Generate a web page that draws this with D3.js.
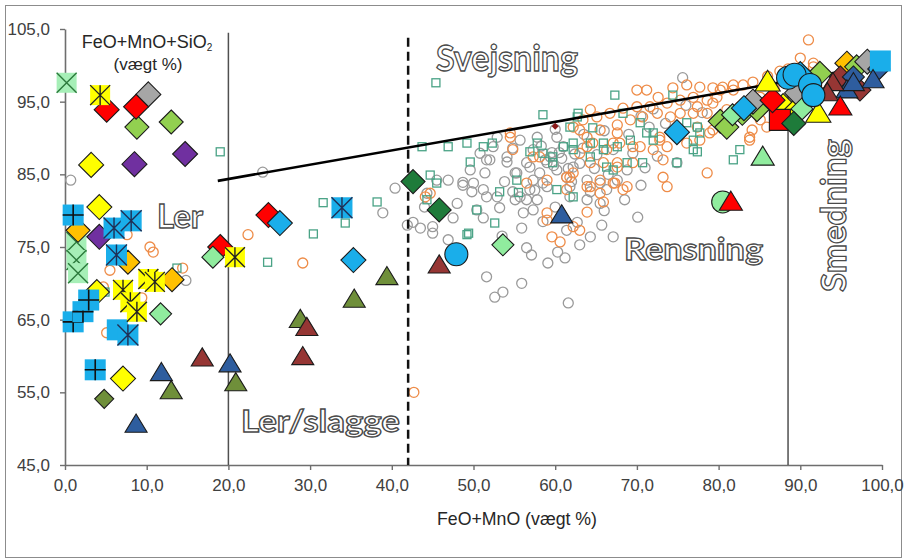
<!DOCTYPE html>
<html>
<head>
<meta charset="utf-8">
<script src="https://cdn.jsdelivr.net/npm/d3@7"></script>
<style>
  body { margin: 0; background: #fff; }
  svg { display: block; }
</style>
</head>
<body>
<svg id="chart" width="906" height="559"></svg>
<script>
// ---------- data: FeO+MnO (x) vs FeO+MnO+SiO2 (y), weight % ----------
const xTicks = [0, 10, 20, 30, 40, 50, 60, 70, 80, 90, 100];
const yTicks = [45, 55, 65, 75, 85, 95, 105];

// background analyses (hollow markers)
const grayCircles = [
  [0.7,84.2],[24.2,85.3],[38.9,79.7],[14.8,70.4],
  [41.9,78.0],[43.5,77.6],[42.6,78.4],[45.0,77.8],[45.0,76.9],[46.9,76.0],[46.9,84.2],[48.7,83.9],
  [49.8,82.6],[50.0,83.8],[51.4,85.2],[51.6,81.9],[50.4,80.1],[53.2,80.4],[51.2,79.0],[52.0,87.0],
  [54.1,86.7],[52.9,90.1],[54.8,88.6],[55.1,85.2],[54.8,82.6],[55.1,81.5],[56.5,81.5],[57.8,81.5],
  [57.3,80.1],[56.1,79.7],[55.9,77.6],[56.5,74.9],[57.1,73.9],[59.1,72.8],[60.3,74.3],[61.2,73.5],
  [51.6,70.9],[52.6,68.1],[53.6,68.8],[55.9,70.0],[61.6,67.3],[63.0,75.3],[64.3,76.4],[65.7,78.0],
  [67.1,76.4],[70.1,79.1],[71.0,85.9],[74.9,86.6],[61.4,77.3],[62.7,78.4],[61.8,81.9],[63.9,81.5],
  [65.5,81.0],[59.0,86.6],[60.2,85.6],[61.4,84.6],[59.6,88.0],[58.1,85.2],[62.2,86.0],[57.3,84.2],
  [56.5,86.6],[58.5,83.8],[63.9,84.2],[65.5,83.8],[66.3,82.9],[64.3,82.6],[67.6,84.2],[68.8,85.6],
  [69.5,87.9],[67.1,88.4],[65.1,87.7],[63.4,88.6],[61.0,88.8],[57.3,88.4],[57.8,90.1],[60.2,90.1],
  [55.7,89.7],[40.4,83.1],[43.1,84.0],[45.5,84.2],[44.3,82.4],[48.7,83.5],[49.6,85.6],[51.6,87.0],
  [54.1,87.4],[52.4,88.8],[50.8,87.9],[55.3,85.2],[56.9,86.0],[59.4,87.4],[61.8,83.3],[59.0,83.3],
  [56.9,82.9],[55.7,81.9],[52.9,81.9],[51.2,82.9],[75.6,98.3],
  [58.8,87.0],[60.8,87.2],[62.4,87.8],[59.8,86.2],[61.6,85.8],[60.5,88.0],[58.3,88.9],[63.0,86.5],
  [64.8,85.8],[62.0,84.0],[66.5,85.0],[57.5,82.8],[53.8,84.0],[47.5,79.0],[46.0,79.8],[48.0,81.0],
  [44.0,80.5],[53.5,76.5],[58.5,78.5],[60.0,80.5],[66.0,80.0],[68.5,81.5],[70.5,83.5],[72.5,87.5],
  [69.0,90.5],[71.5,91.5],[73.5,92.0],[66.0,91.0],[63.5,90.5],[60.0,91.2],[70.5,93.0],[72.0,94.0],
  [76.0,94.5],[78.0,93.5]
];

const orangeCircles = [
  [10.8,74.3],[10.4,75.0],[5.5,71.8],[7.6,76.7],[5.1,63.2],[9.4,68.0],[14.4,72.1],[4.7,69.5],
  [22.4,76.7],[29.1,72.8],[42.7,55.0],[44.7,82.4],[44.1,81.9],
  [91.0,103.5],[90.0,101.0],[91.6,100.3],[70.0,96.6],[71.2,96.6],[72.6,95.6],[74.4,96.9],[76.1,97.3],
  [77.7,97.0],[79.3,96.9],[80.5,97.0],[81.8,97.3],[83.0,97.3],[84.2,97.7],[79.8,95.6],[78.6,95.2],
  [76.9,95.6],[75.3,95.2],[73.7,94.8],[71.6,94.3],[70.0,94.3],[68.3,94.1],[66.7,93.4],[65.1,92.9],
  [63.4,92.5],[62.2,91.5],[65.5,91.1],[67.6,91.8],[69.2,92.5],[70.7,92.9],[72.5,93.4],[74.1,92.9],
  [76.9,93.4],[78.6,93.4],[81.0,93.9],[82.6,94.3],[83.8,95.2],[85.1,95.6],[77.4,91.5],[78.9,90.7],
  [83.8,90.1],[84.1,91.1],[85.1,92.5],[72.8,89.7],[69.5,88.8],[67.9,89.3],[64.6,89.3],[63.0,87.9],
  [67.6,86.0],[68.8,83.3],[65.5,84.2],[73.2,84.6],[73.7,83.3],[61.4,84.6],[63.9,83.3],
  [91.6,99.8],[80.2,96.6],[86.0,98.5],[87.5,99.2],[88.5,99.5],[86.8,96.8],[85.5,94.3],[79.3,94.8],
  [83.5,94.8],[84.2,93.9],[83.8,89.7],[85.9,91.5],[68.3,82.9],[67.1,83.8],[65.9,81.2],
  [59.0,79.7],[59.0,78.7],[59.6,76.4],[60.6,75.7],[62.2,77.8],[63.0,77.3],[63.9,79.8],[65.5,82.4],
  [64.3,83.3],[67.3,83.8],[73.7,88.8],[70.4,88.8],[67.1,89.3],[63.9,90.1],[54.5,90.1],[58.1,87.4],
  [59.0,84.2],[56.5,83.8],[61.4,82.9],[62.2,85.2],[65.9,86.6],[67.6,86.6],[69.5,86.6],[72.0,88.4],
  [64.3,93.9],[63.0,91.1],[67.6,90.7],[63.9,88.8],[66.3,88.4],[54.8,88.4],[64.3,86.6],[61.8,84.6],
  [78.6,85.2],[72.8,90.1],[73.2,87.0],[76.1,89.3],[77.7,89.7],[79.3,91.1],[81.0,92.5],[81.8,96.6],
  [77.4,94.3],[75.3,93.4],[57.3,87.4],[54.5,90.7]
];

const tealSquares = [
  [45.4,97.6],[58.5,93.2],[62.7,92.9],[61.8,91.5],[43.7,88.8],[46.9,88.8],[49.2,89.3],[51.2,88.8],
  [52.3,89.3],[49.6,86.7],[55.3,84.2],[57.8,89.3],[58.5,87.9],[61.0,88.8],[62.2,89.3],[53.2,82.6],
  [44.7,84.9],[44.3,81.5],[50.4,80.1],[38.2,81.2],[31.6,81.1],[45.5,83.8],[49.2,76.7],[52.6,78.3],
  [55.5,82.5],[56.9,88.1],[59.7,86.6],[60.2,82.9],[62.2,81.9],[62.2,88.4],[64.3,89.3],[65.9,88.4],
  [66.3,86.0],[68.8,86.6],[69.2,89.7],[72.0,89.7],[72.0,90.7],[77.4,88.1],[76.9,89.7],[67.3,95.9],
  [74.4,95.9],[64.6,91.4],[68.3,93.4],[70.4,92.1],[71.2,90.7],[76.1,92.1],[77.4,91.5],[74.9,86.6],
  [59.7,87.4],[64.3,87.4],[65.9,89.3],[67.6,88.8],[67.1,85.6],[70.7,86.6],[81.8,87.0],[82.6,88.4],
  [62.8,93.4],[77.7,90.7],[76.9,88.4],[13.7,72.1],[4.9,68.8],[8.3,65.4],[19.0,88.1],[34.3,78.3],
  [30.4,76.8],[24.8,72.9],[49.4,76.9]
];

// sample groups (filled markers)
const mintXSquares     = [[0.2,97.6],[1.4,75.7],[1.4,73.2],[1.6,71.4]];
const orangeDiamonds   = [[1.6,77.3],[7.7,72.9],[13.1,70.5],[95.7,100.3]];
const yellowDiamonds   = [[3.2,86.3],[4.2,80.5],[3.9,68.8],[7.1,56.9],[87.9,94.4],[89.3,93.6]];
const purpleDiamonds   = [[8.5,86.4],[14.7,87.8],[4.2,76.4]];
const limeDiamonds     = [[8.8,91.5],[13.0,92.2],[80.2,92.3],[81.0,91.5],[82.9,93.4],[84.7,93.9],[92.4,98.9],[96.9,99.8]];
const grayDiamonds     = [[10.2,96.0],[84.2,95.0],[89.6,96.2],[98.2,100.5]];
const redSquares       = [[87.5,92.5]];
const redDiamonds      = [[5.1,93.9],[8.7,94.3],[19.0,75.0],[24.9,79.4],[86.6,95.2]];
const mintDiamonds     = [[18.1,73.6],[11.7,65.8],[53.6,75.3],[81.7,93.2],[90.2,94.0]];
const blueDiamonds     = [[26.3,78.3],[35.3,73.2],[74.9,90.8],[83.1,94.1],[90.0,98.8]];
const darkGreenDiamonds= [[42.6,84.0],[45.8,80.1],[89.2,92.0]];
const oliveDiamonds    = [[4.8,54.1]];
const brownDiamonds    = [[94.9,98.4],[97.3,96.6]];
const navyDiamonds     = [[99.6,99.5],[96.5,98.4]];
const blueSquares      = [[6.4,63.6],[99.8,100.6]];
const blueCrossSquares = [[1.0,79.4],[1.0,64.7],[2.2,66.1],[2.9,67.7],[3.7,58.1]];
const blueStarSquares  = [[6.0,77.6],[8.1,78.6],[6.3,73.9],[7.7,62.9],[33.9,80.4]];
const yellowStarSquares= [[4.3,95.9],[10.2,70.6],[11.0,70.2],[7.1,69.1],[8.0,67.4],[8.8,66.1],[20.8,73.6]];
const navyTriangles    = [[8.7,50.6],[11.8,57.7],[20.2,58.9],[60.8,79.4],[95.7,96.6],[98.9,98.0],[96.5,97.6]];
const oliveTriangles   = [[13.0,55.2],[20.9,56.3],[28.8,65.0],[35.4,67.8],[39.4,70.9]];
const brownTriangles   = [[16.8,59.7],[29.1,59.9],[29.6,63.9],[45.8,72.5],[94.0,97.6],[93.3,96.2]];
const yellowTriangles  = [[86.0,97.7],[92.2,93.4]];
const mintTriangles    = [[85.4,87.4]];
const redTriangles     = [[81.5,81.2],[94.9,94.3]];
const blueCircles      = [[47.9,74.0],[88.5,98.3],[89.3,98.7],[91.2,97.3],[91.6,95.9]];
const mintCircles      = [[80.5,81.2]];
const trendPoints      = [[60.0,91.6]];

// field boundaries and trend line
const solidBounds  = [{x: 20, top: 104.5}, {x: 88.5, top: 97}];
const dashedBound  = {x: 42, top: 103.8};
const trendLine    = [[18.7, 84.1], [100, 100.1]];

// ---------- drawing ----------
const svg = d3.select("#chart");
const x = d3.scaleLinear().domain([0, 100]).range([65, 882]);
const y = d3.scaleLinear().domain([45, 105]).range([465, 29]);
const fmt = d3.formatLocale({decimal: ",", thousands: ".", grouping: [3], currency: ["", ""]}).format(".1f");
const axisFont = "'Liberation Sans', Arial, sans-serif";

svg.append("rect").attr("x", 5.5).attr("y", 5.5).attr("width", 896).attr("height", 552)
  .attr("fill", "#fff").attr("stroke", "#8c8c8c").attr("stroke-width", 1);

// axes
const gx = svg.append("g").attr("transform", `translate(0,${y(45)})`)
  .call(d3.axisBottom(x).tickValues(xTicks).tickFormat(fmt).tickSize(5).tickSizeOuter(0).tickPadding(9));
const gy = svg.append("g").attr("transform", `translate(${x(0)},0)`)
  .call(d3.axisLeft(y).tickValues(yTicks).tickFormat(fmt).tickSize(5).tickSizeOuter(0).tickPadding(10));
[gx, gy].forEach(g => {
  g.select(".domain").attr("stroke", "#6e6e6e").attr("stroke-width", 1.6);
  g.selectAll(".tick line").attr("stroke", "#6e6e6e").attr("stroke-width", 1.4);
  g.selectAll(".tick text").attr("fill", "#404040").attr("font-size", 17).attr("font-family", axisFont);
});

// hollow background analyses
const cloud = svg.append("g");
cloud.selectAll(".gc").data(grayCircles).join("circle")
  .attr("cx", d => x(d[0])).attr("cy", d => y(d[1])).attr("r", 5)
  .attr("fill", "none").attr("stroke", "#9a9a9a").attr("stroke-width", 1.3);
cloud.selectAll(".oc").data(orangeCircles).join("circle")
  .attr("cx", d => x(d[0])).attr("cy", d => y(d[1])).attr("r", 5)
  .attr("fill", "none").attr("stroke", "#ee8c48").attr("stroke-width", 1.3);
cloud.selectAll(".ts").data(tealSquares).join("rect")
  .attr("x", d => x(d[0]) - 4).attr("y", d => y(d[1]) - 4).attr("width", 8).attr("height", 8)
  .attr("fill", "none").attr("stroke", "#4aa386").attr("stroke-width", 1.3);

// boundaries
const lines = svg.append("g");
solidBounds.forEach(b => {
  lines.append("line").attr("x1", x(b.x)).attr("x2", x(b.x)).attr("y1", y(b.top)).attr("y2", y(45))
    .attr("stroke", "#505050").attr("stroke-width", 1.5);
});
lines.append("line").attr("x1", x(dashedBound.x)).attr("x2", x(dashedBound.x))
  .attr("y1", y(dashedBound.top)).attr("y2", y(45))
  .attr("stroke", "#111").attr("stroke-width", 2.5).attr("stroke-dasharray", "9,5");
lines.append("path").datum(trendLine)
  .attr("d", d3.line().x(d => x(d[0])).y(d => y(d[1])))
  .attr("stroke", "#000").attr("stroke-width", 2.6).attr("fill", "none");
lines.selectAll(".tp").data(trendPoints).join("path")
  .attr("transform", d => `translate(${x(d[0])},${y(d[1])})`)
  .attr("d", "M0,-3.5L3.5,0L0,3.5L-3.5,0Z").attr("fill", "#8b1a1a");

// marker shapes
const shapes = {
  diamond: r => `M0,${-r}L${r},0L0,${r}L${-r},0Z`,
  triangle: r => `M0,${-r * 0.98}L${r * 1.05},${r * 0.75}L${-r * 1.05},${r * 0.75}Z`,
  square: r => `M${-r},${-r}H${r}V${r}H${-r}Z`
};

function drawSeries(data, opt) {
  const g = svg.append("g");
  const items = g.selectAll("g").data(data).join("g")
    .attr("transform", d => `translate(${x(d[0])},${y(d[1])})`);
  if (opt.shape === "circle") {
    items.append("circle").attr("r", opt.r).attr("fill", opt.fill)
      .attr("stroke", opt.stroke || "#1b1b1b").attr("stroke-width", opt.sw ?? 1.1);
  } else {
    items.append("path").attr("d", shapes[opt.shape](opt.r)).attr("fill", opt.fill)
      .attr("stroke", opt.stroke || "none").attr("stroke-width", opt.sw ?? 1.1);
  }
  const r = opt.r;
  if (opt.glyph === "plus") {
    items.append("path").attr("d", `M${-r},0H${r}M0,${-r}V${r}`)
      .attr("stroke", opt.glyphColor).attr("stroke-width", 1.6);
  } else if (opt.glyph === "star") {
    items.append("path").attr("d", `M0,${-r}V${r}M${-r},${-r}L${r},${r}M${r},${-r}L${-r},${r}`)
      .attr("stroke", opt.glyphColor).attr("stroke-width", 1.4);
  } else if (opt.glyph === "x") {
    items.append("path").attr("d", `M${-r},${-r}L${r},${r}M${r},${-r}L${-r},${r}`)
      .attr("stroke", opt.glyphColor).attr("stroke-width", 1.4);
  }
}

const dk = "#1b1b1b";
drawSeries(mintXSquares,      {shape: "square",  r: 10,   fill: "#a6efb7", glyph: "x", glyphColor: "#2c7a3c"});
drawSeries(orangeDiamonds,    {shape: "diamond", r: 12,   fill: "#ffc000", stroke: dk});
drawSeries(yellowDiamonds,    {shape: "diamond", r: 12.5, fill: "#ffff00", stroke: dk});
drawSeries(purpleDiamonds,    {shape: "diamond", r: 12.5, fill: "#7030a0", stroke: dk});
drawSeries(limeDiamonds,      {shape: "diamond", r: 12,   fill: "#92d050", stroke: dk});
drawSeries(grayDiamonds,      {shape: "diamond", r: 12.5, fill: "#a6a6a6", stroke: dk});
drawSeries(redSquares,        {shape: "square",  r: 10.5, fill: "#ff0000", stroke: dk});
drawSeries(redDiamonds,       {shape: "diamond", r: 12.5, fill: "#ff0000", stroke: dk});
drawSeries(mintDiamonds,      {shape: "diamond", r: 11,   fill: "#90ec9e", stroke: dk});
drawSeries(blueDiamonds,      {shape: "diamond", r: 12.5, fill: "#1aaeea", stroke: dk});
drawSeries(darkGreenDiamonds, {shape: "diamond", r: 12,   fill: "#1e7b3a", stroke: dk});
drawSeries(oliveDiamonds,     {shape: "diamond", r: 9.5,  fill: "#6f8f3a", stroke: dk});
drawSeries(brownDiamonds,     {shape: "diamond", r: 11,   fill: "#963634", stroke: dk});
drawSeries(navyDiamonds,      {shape: "diamond", r: 11,   fill: "#2e5d9e", stroke: dk});
drawSeries(blueSquares,       {shape: "square",  r: 10.5, fill: "#1aaeea"});
drawSeries(blueCrossSquares,  {shape: "square",  r: 10.5, fill: "#1aaeea", glyph: "plus", glyphColor: "#111"});
drawSeries(blueStarSquares,   {shape: "square",  r: 10.5, fill: "#1aaeea", glyph: "star", glyphColor: "#1f2f55"});
drawSeries(yellowStarSquares, {shape: "square",  r: 10,   fill: "#ffff00", glyph: "star", glyphColor: "#222"});
drawSeries(navyTriangles,     {shape: "triangle", r: 10.5, fill: "#2e5d9e", stroke: dk});
drawSeries(oliveTriangles,    {shape: "triangle", r: 10.5, fill: "#6f8f3a", stroke: dk});
drawSeries(brownTriangles,    {shape: "triangle", r: 10.5, fill: "#963634", stroke: dk});
drawSeries(mintCircles,       {shape: "circle",  r: 11,   fill: "#90ec9e"});
drawSeries(redTriangles,      {shape: "triangle", r: 11,  fill: "#ff0000", stroke: dk});
drawSeries(mintTriangles,     {shape: "triangle", r: 11,  fill: "#90ec9e", stroke: dk});
drawSeries(yellowTriangles,   {shape: "triangle", r: 12,  fill: "#ffff00", stroke: dk});
drawSeries(blueCircles,       {shape: "circle",  r: 11.5, fill: "#1aaeea"});

// axis titles
const t1 = svg.append("text").attr("x", 147).attr("y", 48).attr("text-anchor", "middle")
  .attr("font-family", axisFont).attr("font-size", 18).attr("fill", "#262626");
t1.append("tspan").text("FeO+MnO+SiO");
t1.append("tspan").text("2").attr("font-size", 10).attr("dy", 3);
svg.append("text").attr("x", 148).attr("y", 70).attr("text-anchor", "middle")
  .attr("font-family", axisFont).attr("font-size", 17).attr("fill", "#262626").text("(vægt %)");
svg.append("text").attr("x", 437).attr("y", 525)
  .attr("font-family", axisFont).attr("font-size", 19).attr("fill", "#262626")
  .attr("textLength", 160).attr("lengthAdjust", "spacingAndGlyphs").text("FeO+MnO (vægt %)");

// field names
const fields = [
  {text: "Svejsning",  x: 436, y: 71,  size: 36, len: 142, rot: 0},
  {text: "Ler",        x: 157, y: 228, size: 32, len: 46,  rot: 0},
  {text: "Ler/slagge", x: 241, y: 432, size: 30, len: 159, rot: 0},
  {text: "Rensning",   x: 624, y: 260, size: 31, len: 139, rot: 0},
  {text: "Smedning",   x: 846, y: 292, size: 35, len: 153, rot: -90}
];
svg.append("g").selectAll("text").data(fields).join("text")
  .attr("transform", d => `translate(${d.x},${d.y}) rotate(${d.rot})`)
  .attr("font-family", "Lato, 'Open Sans', sans-serif").attr("font-weight", 700)
  .attr("font-size", d => d.size).attr("textLength", d => d.len).attr("lengthAdjust", "spacingAndGlyphs")
  .attr("fill", "#fff").attr("stroke", "#4a4a4a").attr("stroke-width", 1.3)
  .text(d => d.text);
</script>
</body>
</html>
